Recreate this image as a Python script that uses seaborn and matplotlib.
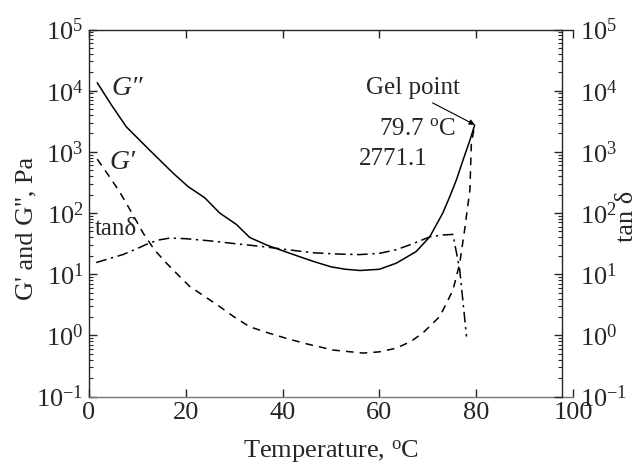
import numpy as np
import pandas as pd
import matplotlib
matplotlib.use("Agg")
import matplotlib.pyplot as plt
import seaborn as sns
from matplotlib.ticker import LogLocator, LogFormatterSciNotation, NullFormatter, FixedLocator

# ---- data ----
gpp_T = [1.7, 4.6, 7.7, 12.5, 17.4, 20.5, 23.9, 27, 30.5, 33.2, 36.6, 39.4, 43, 46.3,
         50, 53, 56, 60, 63.5, 67.6, 70.4, 73.1, 74.5, 75.9, 77.3, 78.7, 79.7]
gpp_logG = [4.13, 3.77, 3.41, 3.03, 2.65, 2.43, 2.25, 2.0, 1.81, 1.60, 1.48, 1.40, 1.30, 1.21,
            1.12, 1.08, 1.06, 1.08, 1.18, 1.37, 1.61, 2.0, 2.26, 2.54, 2.87, 3.19, 3.44]

gp_T = [1.7, 4.0, 6.3, 8.5, 11.2, 13.5, 16, 18.5, 20.8, 24, 27, 30, 33.2, 37, 40.8, 45,
        50.4, 56.6, 60, 63.5, 66.5, 69, 72.5, 75.2, 76.6, 77.6, 78.7, 79.0, 79.7]
gp_logG = [2.88, 2.62, 2.35, 2.05, 1.67, 1.40, 1.18, 0.98, 0.80, 0.63, 0.47, 0.30, 0.14, 0.04,
           -0.05, -0.14, -0.24, -0.29, -0.27, -0.21, -0.10, 0.04, 0.31, 0.74, 1.18, 1.72, 2.38,
           3.14, 3.44]

tan_T = [1.5, 4, 7, 10, 12.5, 14.5, 16.7, 20, 25.6, 30, 36, 41, 46.3, 51, 55.9, 60, 63.5,
         67, 70.4, 73, 75.2, 76.6, 78]
tan_log = [1.19, 1.25, 1.32, 1.42, 1.51, 1.56, 1.59, 1.58, 1.54, 1.50, 1.45, 1.40, 1.35, 1.33,
           1.32, 1.34, 1.40, 1.50, 1.61, 1.64, 1.65, 1.07, -0.02]

x_ticks = [0, 20, 40, 60, 80, 100]
gel_T = 79.7
gel_G = 2771.1

gpp = pd.DataFrame({"T": gpp_T, "G": 10 ** np.array(gpp_logG)})
gp = pd.DataFrame({"T": gp_T, "G": 10 ** np.array(gp_logG)})
tan = pd.DataFrame({"T": tan_T, "G": 10 ** np.array(tan_log)})

sns.set_theme(style="ticks")
plt.rcParams["font.family"] = ["Liberation Serif", "DejaVu Serif"]
plt.rcParams["mathtext.fontset"] = "custom"
plt.rcParams["mathtext.rm"] = "Liberation Serif"
plt.rcParams["mathtext.it"] = "Liberation Serif:italic"
plt.rcParams["axes.unicode_minus"] = False
plt.rcParams["axes.linewidth"] = 1.0

fig = plt.figure(figsize=(6.4, 4.66), dpi=100)
ax = fig.add_axes([89 / 640, 1 - 396.5 / 466, 484 / 640, 367 / 466])

lw = 1.1
sns.lineplot(data=gpp, x="T", y="G", ax=ax, color="black", lw=lw, sort=False)
sns.lineplot(data=gp, x="T", y="G", ax=ax, color="black", lw=lw, sort=False,
             linestyle=(0, (5, 4)))
sns.lineplot(data=tan, x="T", y="G", ax=ax, color="black", lw=lw, sort=False,
             linestyle=(0, (7, 3, 1.5, 3)))

ax.set_yscale("log")
ax.set_xlim(0, 100)
ax.set_ylim(0.1, 1e5)
ax.xaxis.set_major_locator(FixedLocator(x_ticks))
ax.yaxis.set_major_locator(LogLocator(base=10, numticks=10))
ax.yaxis.set_minor_locator(LogLocator(base=10, subs=np.arange(2, 10), numticks=20))
ax.yaxis.set_major_formatter(LogFormatterSciNotation())
ax.yaxis.set_minor_formatter(NullFormatter())

ax.tick_params(axis="both", which="major", direction="in", length=6, width=1,
               labelsize=19, pad=4)
ax.tick_params(axis="y", which="minor", direction="in", length=3, width=0.8)
ax.tick_params(axis="x", top=True)
ax.spines["right"].set_visible(False)
ax.spines["bottom"].set_color("#777777")

ax.set_xlabel("Temperature, $^\\mathrm{o}$C", fontsize=19, labelpad=10)
ax.set_ylabel("")
fig.text(26 / 640, 1 - 228 / 466, "G' and G'', Pa", fontsize=19, rotation=90,
         ha="center", va="center")

ax2 = ax.twinx()
ax2.set_yscale("log")
ax2.set_ylim(0.1, 1e5)
ax2.yaxis.set_major_locator(LogLocator(base=10, numticks=10))
ax2.yaxis.set_minor_locator(LogLocator(base=10, subs=np.arange(2, 10), numticks=20))
ax2.yaxis.set_major_formatter(LogFormatterSciNotation())
ax2.yaxis.set_minor_formatter(NullFormatter())
for s in ["left", "top", "bottom"]:
    ax2.spines[s].set_visible(False)
ax2.spines["right"].set_position(("data", 97.7))
ax2.tick_params(axis="y", which="major", direction="in", length=6, width=1,
                labelsize=19, pad=13)
ax2.tick_params(axis="y", which="minor", direction="in", length=3, width=0.8)
ax2.set_ylabel("")
fig.text(627 / 640, 1 - 216 / 466, "tan \u03b4", fontsize=19, rotation=90,
         ha="center", va="center")

# annotations
ax.text(4.7, 10 ** 4.03, "G\u2033", fontsize=20, style="italic", va="center", ha="left")
ax.text(4.3, 10 ** 2.83, "G\u2032", fontsize=20, style="italic", va="center", ha="left")
ax.text(1.2, 10 ** 1.74, "tan\u03b4", fontsize=18, va="center", ha="left")
ax.text(57.3, 10 ** 4.04, "Gel point", fontsize=18, va="center", ha="left")
ax.text(59.9, 10 ** 3.37, "79.7 $^\\mathrm{o}$C", fontsize=18, va="center", ha="left")
ax.text(55.7, 10 ** 2.88, "2771.1", fontsize=18, va="center", ha="left")
ax.annotate("", xy=(gel_T, gel_G), xytext=(71.0, 10 ** 3.80),
            arrowprops=dict(arrowstyle="-|>", color="black", lw=0.8,
                            mutation_scale=8, shrinkA=0, shrinkB=0))

fig.savefig("out.png", dpi=100)
